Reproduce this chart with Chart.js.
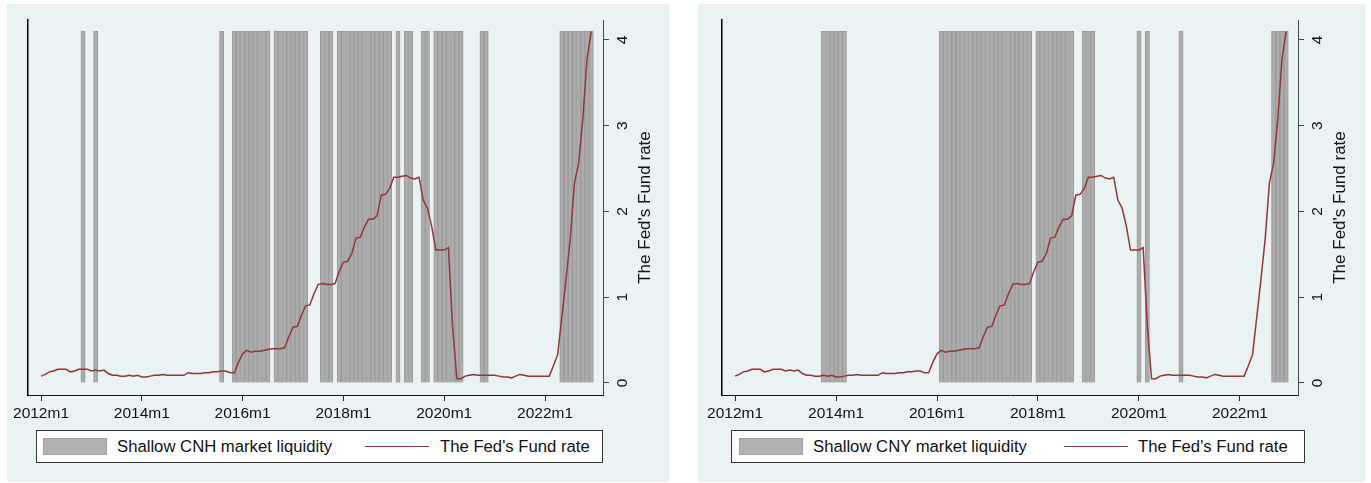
<!DOCTYPE html>
<html>
<head>
<meta charset="utf-8">
<script src="https://cdn.jsdelivr.net/npm/chart.js@4.4.1/dist/chart.umd.min.js"></script>
<style>
  body { margin: 0; background: #fff; width: 1371px; height: 483px; position: relative; overflow: hidden;
         font-family: "Liberation Sans", Arial, sans-serif; }
  .panel { position: absolute; top: 4px; height: 478px; background: #eaf2f3; }
  .panel canvas { position: absolute; left: 0; top: 0; }
  .legend { position: absolute; top: 426px; height: 33px; background: #fff; border: 1px solid #333; box-sizing: border-box; }
  .legend .sw { position: absolute; top: 7px; width: 64px; height: 17px; background: #b1b1b1; border: 1px solid #a0a0a0; box-sizing: border-box; }
  .legend .ln { position: absolute; top: 15px; width: 64px; height: 0; border-top: 1.5px solid #90353b; }
  .legend .tx { position: absolute; top: 6px; font-size: 16.7px; line-height: 19px; color: #111; white-space: nowrap; }
</style>
</head>
<body>

<div class="panel" id="leftPanel" style="left:7px; width:662px;">
  <canvas id="cnhChart" width="662" height="478"></canvas>
  <div class="legend" style="left:29px; width:567px;">
    <div class="sw" style="left:6px;"></div>
    <div class="tx" style="left:80px;">Shallow CNH market liquidity</div>
    <div class="ln" style="left:328px;"></div>
    <div class="tx" style="left:403px;">The Fed's Fund rate</div>
  </div>
</div>

<div class="panel" id="rightPanel" style="left:698px; width:667px;">
  <canvas id="cnyChart" width="667" height="478"></canvas>
  <div class="legend" style="left:33px; width:574px;">
    <div class="sw" style="left:7px;"></div>
    <div class="tx" style="left:81px;">Shallow CNY market liquidity</div>
    <div class="ln" style="left:332px;"></div>
    <div class="tx" style="left:406px;">The Fed's Fund rate</div>
  </div>
</div>

<script>
// Monthly effective Fed funds rate, 2012m1 .. 2022m12 (index 0 = 2012m1)
const fedRate = [
  0.08, 0.10, 0.13, 0.14, 0.16, 0.16, 0.16, 0.13, 0.14, 0.16, 0.16, 0.16,
  0.14, 0.15, 0.14, 0.15, 0.11, 0.09, 0.09, 0.08, 0.08, 0.09, 0.08, 0.09,
  0.07, 0.07, 0.08, 0.09, 0.09, 0.10, 0.09, 0.09, 0.09, 0.09, 0.09, 0.12,
  0.11, 0.11, 0.11, 0.12, 0.12, 0.13, 0.13, 0.14, 0.14, 0.12, 0.12, 0.24,
  0.34, 0.38, 0.36, 0.37, 0.37, 0.38, 0.39, 0.40, 0.40, 0.40, 0.41, 0.54,
  0.65, 0.66, 0.79, 0.90, 0.91, 1.04, 1.15, 1.16, 1.15, 1.15, 1.16, 1.30,
  1.41, 1.42, 1.51, 1.69, 1.70, 1.82, 1.91, 1.91, 1.95, 2.19, 2.20, 2.27,
  2.40, 2.40, 2.41, 2.42, 2.39, 2.38, 2.40, 2.13, 2.04, 1.83, 1.55, 1.55,
  1.55, 1.58, 0.65, 0.05, 0.05, 0.08, 0.09, 0.10, 0.09, 0.09, 0.09, 0.09,
  0.09, 0.08, 0.07, 0.07, 0.06, 0.08, 0.10, 0.09, 0.08, 0.08, 0.08, 0.08,
  0.08, 0.08, 0.20, 0.33, 0.77, 1.21, 1.68, 2.33, 2.56, 3.08, 3.78, 4.10
];

// Months (index from 2012m1) flagged as shallow market liquidity
const cnhShallow = [10, 13, 43, 46, 47, 48, 49, 50, 51, 52, 53, 54,
  56, 57, 58, 59, 60, 61, 62, 63, 67, 68, 69,
  71, 72, 73, 74, 75, 76, 77, 78, 79, 80, 81, 82, 83, 85, 87, 88, 91, 92,
  94, 95, 96, 97, 98, 99, 100, 105, 106, 124, 125, 126, 127, 128, 129, 130, 131];
const cnyShallow = [21, 22, 23, 24, 25, 26,
  49, 50, 51, 52, 53, 54, 55, 56, 57, 58, 59, 60, 61, 62, 63, 64, 65, 66, 67, 68, 69, 70,
  72, 73, 74, 75, 76, 77, 78, 79, 80, 83, 84, 85, 96, 98, 106, 128, 129, 130, 131];

const tickMonths = [0, 24, 48, 72, 96, 120];
const tickLabels = ['2012m1', '2014m1', '2016m1', '2018m1', '2020m1', '2022m1'];
const rateTicks = [0, 1, 2, 3, 4];

const FONT = '"Liberation Sans", Arial, sans-serif';
const barTop = Math.max(...fedRate);

// draws the right axis title reading bottom to top, like the original
const rightTitle = {
  id: 'rightTitle',
  afterDraw(chart, args, opts) {
    const { ctx, chartArea } = chart;
    ctx.save();
    ctx.translate(chartArea.right + opts.offset, (chartArea.top + chartArea.bottom) / 2);
    ctx.rotate(-Math.PI / 2);
    ctx.font = '17px ' + FONT;
    ctx.fillStyle = '#111';
    ctx.textAlign = 'center';
    ctx.textBaseline = 'middle';
    ctx.fillText(opts.text, 0, 0);
    ctx.restore();
  }
};

function makeChart(id, shallow, padLeft, rightWidth) {
  const ctx = document.getElementById(id).getContext('2d');
  return new Chart(ctx, {
    data: {
      datasets: [
        {
          type: 'line',
          label: "The Fed's Fund rate",
          data: fedRate.map((v, i) => ({ x: i, y: v })),
          borderColor: '#90353b',
          borderWidth: 1.5,
          pointRadius: 0,
          tension: 0,
          yAxisID: 'y',
          order: 0
        },
        {
          type: 'bar',
          label: 'Shallow market liquidity',
          data: shallow.map(m => ({ x: m, y: barTop })),
          backgroundColor: '#acacac',
          borderColor: '#9b9b9b',
          borderWidth: 1,
          barPercentage: 1,
          categoryPercentage: 1,
          grouped: false,
          yAxisID: 'y',
          order: 1
        }
      ]
    },
    options: {
      responsive: false,
      animation: false,
      events: [],
      layout: { padding: { left: padLeft, right: 0, top: 16, bottom: 57 } },
      plugins: {
        legend: { display: false },
        tooltip: { enabled: false },
        rightTitle: { text: "The Fed's Fund rate", offset: 42 }
      },
      scales: {
        x: {
          type: 'linear',
          position: 'bottom',
          offset: false,
          min: -3.1,
          max: 133.8,
          afterBuildTicks: s => { s.ticks = tickMonths.map(v => ({ value: v })); },
          afterFit: s => { s.height = 30; s.paddingLeft = 0; s.paddingRight = 0; },
          ticks: {
            callback: v => tickLabels[tickMonths.indexOf(v)],
            font: { family: FONT, size: 15.5 },
            color: '#111',
            padding: 3,
            maxRotation: 0,
            autoSkip: false
          },
          grid: { offset: false, drawOnChartArea: false, drawTicks: true, tickLength: 6, color: '#222' },
          border: { display: true, color: '#111', width: 1 }
        },
        y: {
          type: 'linear',
          position: 'right',
          min: -0.14,
          max: 4.233,
          afterBuildTicks: s => { s.ticks = rateTicks.map(v => ({ value: v })); },
          afterFit: s => { s.width = rightWidth; s.paddingTop = 0; s.paddingBottom = 0; },
          ticks: {
            minRotation: 90,
            maxRotation: 90,
            crossAlign: 'center',
            font: { family: FONT, size: 15.5 },
            color: '#111',
            padding: 9
          },
          grid: { drawOnChartArea: false, drawTicks: true, tickLength: 6, color: '#444' },
          border: { display: true, color: '#444', width: 1 }
        },
        yL: {
          type: 'linear',
          position: 'left',
          display: true,
          min: 0,
          max: 1,
          afterFit: s => { s.width = 0; s.paddingTop = 0; s.paddingBottom = 0; },
          ticks: { display: false },
          grid: { display: false, drawTicks: false },
          border: { display: true, color: '#000', width: 1.5 }
        }
      }
    },
    plugins: [rightTitle]
  });
}

document.addEventListener('DOMContentLoaded', () => {
  makeChart('cnhChart', cnhShallow, 21, 66);
  makeChart('cnyChart', cnyShallow, 24, 67);
});
</script>
</body>
</html>
